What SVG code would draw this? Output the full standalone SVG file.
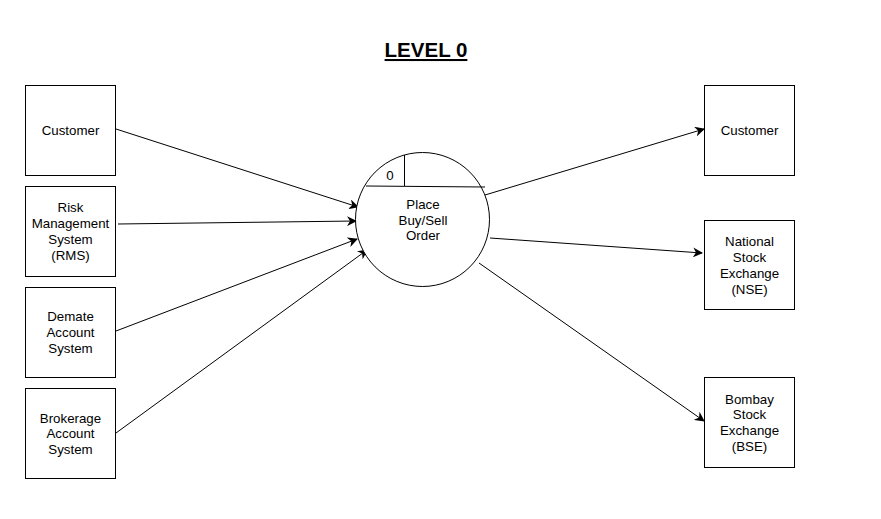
<svg xmlns="http://www.w3.org/2000/svg" width="881" height="519" viewBox="0 0 881 519">
<defs>
<marker id="arr" markerWidth="10" markerHeight="10" refX="9" refY="5" orient="auto" markerUnits="userSpaceOnUse">
<path d="M0,0 L10,5 L0,10 L3,5 Z" fill="#000"/>
</marker>
<style>
.box{fill:#fff;stroke:#000;stroke-width:1}
.t{font-family:"Liberation Sans",Arial,sans-serif;font-size:13.3px;fill:#000;text-anchor:middle}
.c{stroke:#000;stroke-width:1;fill:none;marker-end:url(#arr)}
</style>
</defs>
<rect width="881" height="519" fill="#fff"/>
<text x="426" y="57" font-family="Liberation Sans,Arial,sans-serif" font-size="20.5" font-weight="bold" text-anchor="middle" text-decoration="underline">LEVEL 0</text>
<g id="connectors">
<line class="c" x1="116" y1="129" x2="358" y2="207"/>
<line class="c" x1="118" y1="224" x2="356" y2="221"/>
<line class="c" x1="116" y1="331" x2="357" y2="239"/>
<line class="c" x1="116" y1="433" x2="367" y2="250"/>
<line class="c" x1="485" y1="195" x2="704" y2="129"/>
<line class="c" x1="490" y1="238" x2="702" y2="253"/>
<line class="c" x1="479" y1="263" x2="704" y2="421"/>
</g>
<g id="customer-left"><rect class="box" x="25.5" y="85.5" width="90" height="90"/><text class="t" x="70.5" y="135">Customer</text></g>
<g id="rms"><rect class="box" x="25.5" y="186.5" width="90" height="90"/><text class="t" x="70.5" y="212">Risk</text><text class="t" x="70.5" y="228">Management</text><text class="t" x="70.5" y="244">System</text><text class="t" x="70.5" y="260">(RMS)</text></g>
<g id="demate"><rect class="box" x="25.5" y="287.5" width="90" height="90"/><text class="t" x="70.5" y="321">Demate</text><text class="t" x="70.5" y="337">Account</text><text class="t" x="70.5" y="353">System</text></g>
<g id="brokerage"><rect class="box" x="25.5" y="388.5" width="90" height="90"/><text class="t" x="70.5" y="423">Brokerage</text><text class="t" x="70.5" y="438">Account</text><text class="t" x="70.5" y="454">System</text></g>
<g id="process"><circle cx="422.5" cy="219.5" r="67" fill="#fff" stroke="#000"/><line x1="366" y1="186" x2="485" y2="187" stroke="#000"/><line x1="404.5" y1="155" x2="404.5" y2="186" stroke="#000"/><text class="t" x="390" y="180">0</text><text class="t" x="423" y="209">Place</text><text class="t" x="423" y="225">Buy/Sell</text><text class="t" x="423" y="240">Order</text></g>
<g id="customer-right"><rect class="box" x="704.5" y="85.5" width="90" height="90"/><text class="t" x="749.5" y="135">Customer</text></g>
<g id="nse"><rect class="box" x="704.5" y="220.5" width="90" height="89"/><text class="t" x="749.5" y="246">National</text><text class="t" x="749.5" y="262">Stock</text><text class="t" x="749.5" y="278">Exchange</text><text class="t" x="749.5" y="294">(NSE)</text></g>
<g id="bse"><rect class="box" x="704.5" y="377.5" width="90" height="90"/><text class="t" x="749.5" y="404">Bombay</text><text class="t" x="749.5" y="419">Stock</text><text class="t" x="749.5" y="435">Exchange</text><text class="t" x="749.5" y="451">(BSE)</text></g>
</svg>
